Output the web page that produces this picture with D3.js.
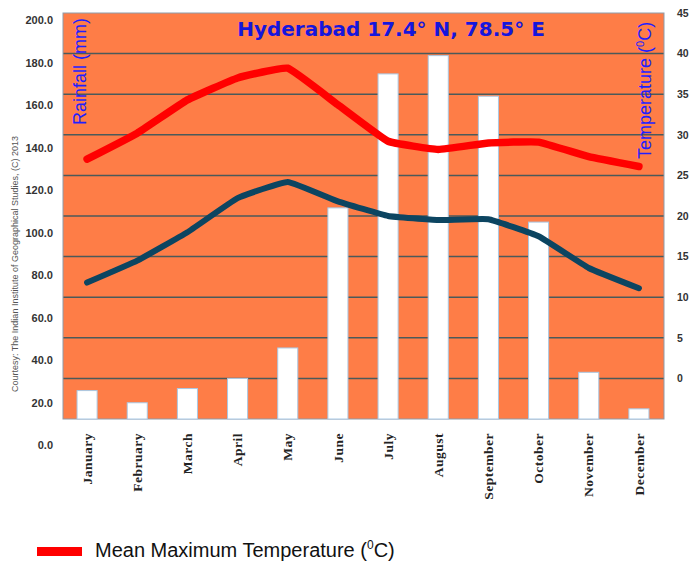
<!DOCTYPE html>
<html>

<head>
	<meta charset="utf-8">
	<script type="text/javascript" src="https://d3js.org/d3.v7.min.js"></script>
	<style>
		body { margin: 0; background: #fff; }
	</style>
</head>

<body>
	<svg height="562" width="689"></svg>
	<script>
		var months = ["January", "February", "March", "April", "May", "June",
			"July", "August", "September", "October", "November", "December"];
		var rainfall = [14, 8, 15, 20, 35, 104, 170, 179, 159, 97, 23, 5];
		var maxTemp = [27.0, 30.2, 34.3, 37.0, 38.2, 33.7, 29.2, 28.2, 29.0, 29.1, 27.3, 26.1];
		var minTemp = [11.8, 14.5, 18.0, 22.2, 24.2, 21.8, 20.0, 19.5, 19.6, 17.5, 13.6, 11.1];
		var rainTicks = [0, 20, 40, 60, 80, 100, 120, 140, 160, 180, 200];
		var tempTicks = [0, 5, 10, 15, 20, 25, 30, 35, 40, 45];

		var margin = { top: 13, right: 25, bottom: 143, left: 63 };
		var width = 689, height = 562;
		var plotBottom = height - margin.bottom;
		var plotRight = width - margin.right;

		var svg = d3.select("svg");

		var x = d3.scaleBand()
			.domain(months)
			.range([margin.left - 1, plotRight])
			.paddingInner(0.6)
			.paddingOuter(0.3);

		var yRain = d3.scaleLinear()
			.domain([0, 200])
			.range([plotBottom, margin.top]);

		// temperature axis is shifted: 0 C sits on the 20 mm line
		var yTemp = d3.scaleLinear()
			.domain([-5, 45])
			.range([plotBottom, margin.top]);

		// the rainfall labels in the original are slightly stretched off the grid
		var yRainLabel = d3.scaleLinear()
			.domain([0, 200])
			.range([plotBottom + 26, margin.top + 7]);

		// plot background
		svg.append("rect")
			.attr("x", margin.left)
			.attr("y", margin.top)
			.attr("width", plotRight - margin.left)
			.attr("height", plotBottom - margin.top)
			.attr("fill", "#fe7d47");

		// grid lines
		svg.append("g")
			.selectAll("line")
			.data(rainTicks.slice(1, -1))
			.join("line")
			.attr("x1", margin.left)
			.attr("x2", plotRight)
			.attr("y1", d => yRain(d))
			.attr("y2", d => yRain(d))
			.attr("stroke", "#4b5a5a")
			.attr("stroke-width", 1.5);

		svg.append("rect")
			.attr("x", margin.left)
			.attr("y", margin.top)
			.attr("width", plotRight - margin.left)
			.attr("height", plotBottom - margin.top)
			.attr("fill", "none")
			.attr("stroke", "#8e9caa")
			.attr("stroke-width", 1);

		// rainfall bars
		svg.append("g")
			.selectAll("rect")
			.data(rainfall)
			.join("rect")
			.attr("x", (d, i) => x(months[i]))
			.attr("y", d => yRain(d))
			.attr("width", x.bandwidth())
			.attr("height", d => yRain(0) - yRain(d))
			.attr("fill", "#ffffff")
			.attr("stroke", "#a9c8e4")
			.attr("stroke-width", 1);

		// temperature lines, only lightly smoothed like the original
		var line = d3.line()
			.x((d, i) => x(months[i]) + x.bandwidth() / 2)
			.y(d => yTemp(d))
			.curve(d3.curveCardinal.tension(0.7));

		svg.append("path")
			.datum(minTemp)
			.attr("d", line)
			.attr("fill", "none")
			.attr("stroke", "#0c4561")
			.attr("stroke-width", 6)
			.attr("stroke-linecap", "round")
			.attr("stroke-linejoin", "round");

		svg.append("path")
			.datum(maxTemp)
			.attr("d", line)
			.attr("fill", "none")
			.attr("stroke", "#ff0000")
			.attr("stroke-width", 7.5)
			.attr("stroke-linecap", "round")
			.attr("stroke-linejoin", "round");

		// left axis labels
		var leftAxis = svg.append("g")
			.attr("transform", "translate(56,0)")
			.call(d3.axisLeft(yRainLabel).tickValues(rainTicks).tickFormat(d3.format(".1f")).tickSize(0).tickPadding(3));
		leftAxis.select(".domain").remove();
		leftAxis.selectAll("text")
			.attr("font-family", "Liberation Sans, Arial, sans-serif")
			.attr("font-size", 11)
			.attr("font-weight", "bold")
			.attr("fill", "#333");

		// right axis labels
		var rightAxis = svg.append("g")
			.attr("transform", "translate(677,0)")
			.call(d3.axisRight(yTemp).tickValues(tempTicks).tickSize(0).tickPadding(0));
		rightAxis.select(".domain").remove();
		rightAxis.selectAll("text")
			.attr("font-family", "Liberation Sans, Arial, sans-serif")
			.attr("font-size", 10.5)
			.attr("font-weight", "bold")
			.attr("fill", "#333");

		// month labels
		var bottomAxis = svg.append("g")
			.attr("transform", `translate(0,${plotBottom})`)
			.call(d3.axisBottom(x).tickSize(0));
		bottomAxis.select(".domain").remove();
		bottomAxis.selectAll("text")
			.attr("transform", "rotate(-90)")
			.attr("text-anchor", "end")
			.attr("x", -14)
			.attr("y", 0)
			.attr("dy", "0.35em")
			.attr("font-family", "Liberation Serif, Times New Roman, serif")
			.attr("font-size", 13.5)
			.attr("font-weight", "bold")
			.attr("letter-spacing", 0.5)
			.attr("fill", "#222");

		// title
		svg.append("text")
			.attr("x", 391)
			.attr("y", 36)
			.attr("text-anchor", "middle")
			.attr("font-family", "DejaVu Sans, Verdana, sans-serif")
			.attr("font-size", 20)
			.attr("font-weight", "bold")
			.attr("fill", "#1616dc")
			.text("Hyderabad 17.4° N, 78.5° E");

		// axis titles
		svg.append("text")
			.attr("transform", "translate(86,125) rotate(-90)")
			.attr("font-family", "Liberation Sans, Arial, sans-serif")
			.attr("font-size", 18)
			.attr("fill", "#1f1fff")
			.text("Rainfall (mm)");

		var tempTitle = svg.append("text")
			.attr("transform", "translate(651,159) rotate(-90)")
			.attr("font-family", "Liberation Sans, Arial, sans-serif")
			.attr("font-size", 18)
			.attr("fill", "#1f1fff");
		tempTitle.append("tspan").text("Temperature (");
		tempTitle.append("tspan").attr("font-size", 11).attr("dy", -7).text("0");
		tempTitle.append("tspan").attr("dy", 7).text("C)");

		// courtesy
		svg.append("text")
			.attr("transform", "translate(18,392) rotate(-90)")
			.attr("font-family", "Liberation Sans, Arial, sans-serif")
			.attr("font-size", 9)
			.attr("fill", "#555")
			.text("Courtesy: The Indian Institute of Geographical Studies, (C) 2013");

		// legend
		svg.append("rect")
			.attr("x", 37)
			.attr("y", 547)
			.attr("width", 45)
			.attr("height", 9)
			.attr("fill", "#ff0000");

		var legendText = svg.append("text")
			.attr("x", 95)
			.attr("y", 557)
			.attr("font-family", "Liberation Sans, Arial, sans-serif")
			.attr("font-size", 20)
			.attr("fill", "#111");
		legendText.append("tspan").text("Mean Maximum Temperature (");
		legendText.append("tspan").attr("font-size", 12).attr("dy", -8).text("0");
		legendText.append("tspan").attr("dy", 8).text("C)");

	</script>

</body>

</html>
